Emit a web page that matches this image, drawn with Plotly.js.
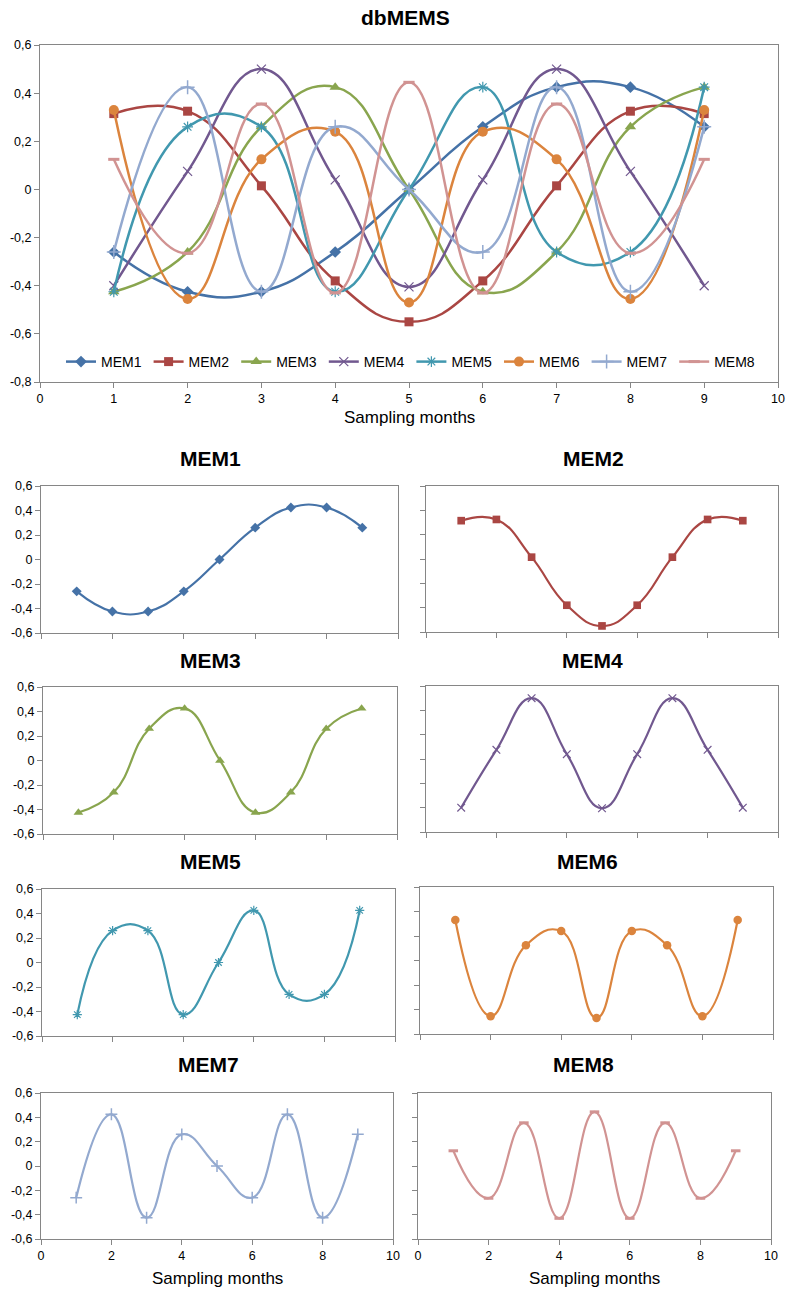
<!DOCTYPE html>
<html>
<head>
<meta charset="utf-8">
<script src="https://cdn.plot.ly/plotly-3.0.1.min.js"></script>
<style>html,body{margin:0;padding:0;background:#fff;}#chart{width:788px;height:1290px;}</style>
</head>
<body>
<div id="chart"></div>
<script>
// ---- data ----
const months = [1, 2, 3, 4, 5, 6, 7, 8, 9];
const seriesNames = ["MEM1", "MEM2", "MEM3", "MEM4", "MEM5", "MEM6", "MEM7", "MEM8"];
const mem1 = [-0.26, -0.425, -0.425, -0.26, 0.0, 0.26, 0.425, 0.425, 0.26];
const mem2 = [0.315, 0.325, 0.015, -0.38, -0.55, -0.38, 0.015, 0.325, 0.315];
const mem3 = [-0.425, -0.26, 0.26, 0.425, 0.0, -0.425, -0.26, 0.26, 0.425];
const mem4 = [-0.40, 0.075, 0.50, 0.04, -0.405, 0.04, 0.50, 0.075, -0.40];
const mem5 = [-0.425, 0.26, 0.26, -0.425, 0.0, 0.425, -0.26, -0.26, 0.425];
const mem6 = [0.33, -0.455, 0.125, 0.24, -0.47, 0.24, 0.125, -0.455, 0.33];
const mem7 = [-0.26, 0.425, -0.425, 0.26, 0.0, -0.26, 0.425, -0.425, 0.26];
const mem8 = [0.125, -0.265, 0.355, -0.43, 0.445, -0.43, 0.355, -0.265, 0.125];
const mainYTickVals = [-0.8, -0.6, -0.4, -0.2, 0, 0.2, 0.4, 0.6];
const mainYTickText = ["-0,8", "-0,6", "-0,4", "-0,2", "0", "0,2", "0,4", "0,6"];
const subYTickVals = [-0.6, -0.4, -0.2, 0, 0.2, 0.4, 0.6];
const subYTickText = ["-0,6", "-0,4", "-0,2", "0", "0,2", "0,4", "0,6"];
const mainXTickVals = [0, 1, 2, 3, 4, 5, 6, 7, 8, 9, 10];
const subXTickVals = [0, 2, 4, 6, 8, 10];
const xTitle = "Sampling months";
const mainTitle = "dbMEMS";

const allSeries = [mem1, mem2, mem3, mem4, mem5, mem6, mem7, mem8];

// ---- styles ----
const W = 788, H = 1290;
const colors = ["#4572A7", "#AA4643", "#89A54E", "#71588F", "#4198AF", "#DB843D", "#93A9CF", "#D19392"];
const markerDefs = [
  {symbol: "diamond", size: 9},
  {symbol: "square", size: 9},
  {symbol: "triangle-up", size: 10},
  {symbol: "x-thin", size: 9, line: {width: 1.2}},
  {symbol: "asterisk", size: 9, line: {width: 1.2}},
  {symbol: "circle", size: 10},
  {symbol: "cross-thin", size: 10, line: {width: 1.5}},
  {symbol: "line-ew", size: 8, line: {width: 3}}
];
const FONT = "Liberation Sans, Arial, sans-serif";
const AXC = "#868686";
const SMOOTH = 1.3;

function px2x(a, b) { return [a / W, b / W]; }
function px2y(top, bottom) { return [1 - bottom / H, 1 - top / H]; }

function mk(i, scale) {
  const d = markerDefs[i];
  const m = {symbol: d.symbol, size: d.size * scale, color: colors[i]};
  m.line = {color: colors[i], width: d.line ? d.line.width : 0};
  return m;
}

const traces = [];
// main chart
allSeries.forEach((s, i) => {
  traces.push({
    x: months, y: s, name: seriesNames[i], type: "scatter", mode: "lines+markers",
    line: {color: colors[i], width: 2.5, shape: "spline", smoothing: SMOOTH},
    marker: mk(i, 1), xaxis: "x", yaxis: "y", showlegend: true
  });
});
// small charts
allSeries.forEach((s, i) => {
  traces.push({
    x: months, y: s, name: seriesNames[i], type: "scatter", mode: "lines+markers",
    line: {color: colors[i], width: 2.2, shape: "spline", smoothing: SMOOTH},
    marker: mk(i, 0.85), xaxis: "x" + (i + 2), yaxis: "y" + (i + 2), showlegend: false
  });
});

const baseAxis = {
  showline: true, linecolor: AXC, linewidth: 1, mirror: true,
  ticks: "outside", ticklen: 5, tickcolor: AXC, tickwidth: 1,
  showgrid: false, zeroline: false, fixedrange: true,
  tickfont: {family: FONT, size: 12.5, color: "#000"}
};

const layout = {
  width: W, height: H,
  margin: {l: 0, r: 0, t: 0, b: 0},
  paper_bgcolor: "#fff", plot_bgcolor: "#fff",
  font: {family: FONT, color: "#000"},
  showlegend: true,
  legend: {
    orientation: "h", x: 61 / W, xanchor: "left", y: 1 - 362 / H, yanchor: "middle",
    entrywidth: 42.6, entrywidthmode: "pixels", itemwidth: 30,
    bgcolor: "rgba(0,0,0,0)", font: {family: FONT, size: 14, color: "#000"}
  },
  xaxis: Object.assign({}, baseAxis, {domain: px2x(40, 778), range: [0, 10], tickvals: mainXTickVals, ticktext: mainXTickVals.map(String)}),
  yaxis: Object.assign({}, baseAxis, {domain: px2y(45, 382), range: [-0.8, 0.6], tickvals: mainYTickVals, ticktext: mainYTickText}),
  annotations: []
};

function ann(text, cx, cy, size, bold) {
  layout.annotations.push({
    text: bold ? "<b>" + text + "</b>" : text, xref: "paper", yref: "paper",
    x: cx / W, y: 1 - cy / H, xanchor: "center", yanchor: "middle", showarrow: false,
    font: {family: FONT, size: size, color: "#000"}
  });
}
ann(mainTitle, 405, 18, 21, true);
ann(xTitle, 409, 418, 17, false);

// small chart boxes: [left, right, top, bottom] in px, title center
const boxes = [
  [41, 398, 486, 633, 210, 458],
  [426, 778, 486, 632, 593, 458],
  [43, 397, 687, 834, 210, 660],
  [426, 778, 686, 832, 592, 660],
  [42, 395, 889, 1036, 210, 861],
  [420, 773, 887, 1034, 587, 861],
  [41, 393, 1093, 1239, 208, 1064],
  [418, 771, 1093, 1239, 583, 1064]
];
boxes.forEach((b, i) => {
  const n = i + 2;
  const leftCol = i % 2 === 0;
  const bottomRow = i >= 6;
  layout["xaxis" + n] = Object.assign({}, baseAxis, {
    domain: px2x(b[0], b[1]), range: [0, 10], anchor: "y" + n,
    tickvals: subXTickVals, ticktext: subXTickVals.map(String), showticklabels: bottomRow
  });
  layout["yaxis" + n] = Object.assign({}, baseAxis, {
    domain: px2y(b[2], b[3]), range: [-0.6, 0.6], anchor: "x" + n,
    tickvals: subYTickVals, ticktext: subYTickText, showticklabels: leftCol
  });
  ann(seriesNames[i], b[4], b[5], 21, true);
});
ann(xTitle, 217, 1278, 17, false);
ann(xTitle, 594, 1278, 17, false);

Plotly.newPlot("chart", traces, layout, {staticPlot: true, displayModeBar: false});
</script>
</body>
</html>
